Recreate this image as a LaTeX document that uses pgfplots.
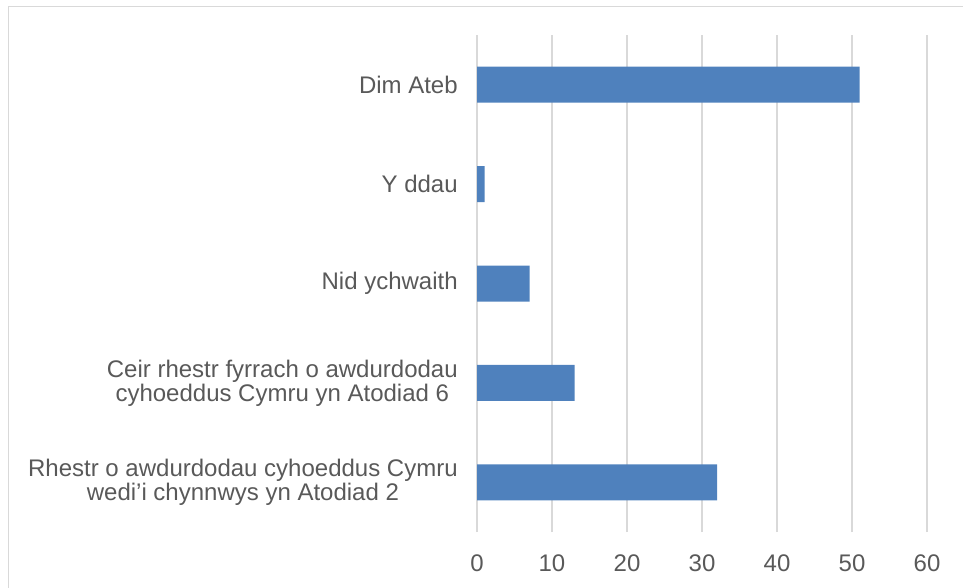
\documentclass[border=0pt]{standalone}
\usepackage{fontspec}
\setmainfont{Liberation Sans}
\usepackage{pgfplots}
\pgfplotsset{compat=1.18}
\definecolor{barblue}{HTML}{4F81BD}
\definecolor{gridgray}{HTML}{D9D9D9}
\definecolor{txtgray}{HTML}{595959}
\begin{document}
\begin{tikzpicture}
\useasboundingbox (0pt,0pt) rectangle (722.25pt,-440.25pt);
\draw[gridgray, line width=1pt] (6.4pt,-800pt) -- (6.4pt,-4.9pt) -- (900pt,-4.9pt);
\begin{axis}[
  at={(357.75pt,-399pt)}, anchor=south west,
  scale only axis, width=337.5pt, height=372.75pt,
  xbar, bar width=27pt, enlargelimits=false,
  xmin=0, xmax=60, xtick={0,10,...,60},
  ymin=-0.5, ymax=4.5, ytick={0,1,2,3,4},
  yticklabels={{Rhestr o awdurdodau cyhoeddus Cymru\\wedi’i chynnwys yn Atodiad 2},
               {Ceir rhestr fyrrach o awdurdodau\\cyhoeddus Cymru yn Atodiad 6},
               {Nid ychwaith},{Y ddau},{Dim Ateb}},
  axis line style={draw=none}, major tick style={draw=none},
  xmajorgrids, grid style={gridgray, line width=0.9pt},
  /pgf/number format/assume math mode=true,
  xticklabel style={font=\fontsize{18}{18}\selectfont, text=txtgray, anchor=base, yshift=-29.25pt},
  yticklabel style={font=\fontsize{18}{18}\selectfont, text=txtgray, align=center, inner sep=0pt, anchor=east, xshift=-10pt},
]
\addplot[fill=barblue, draw=none] coordinates {(32,0) (13,1) (7,2) (1,3) (51,4)};
\end{axis}
\end{tikzpicture}
\end{document}
